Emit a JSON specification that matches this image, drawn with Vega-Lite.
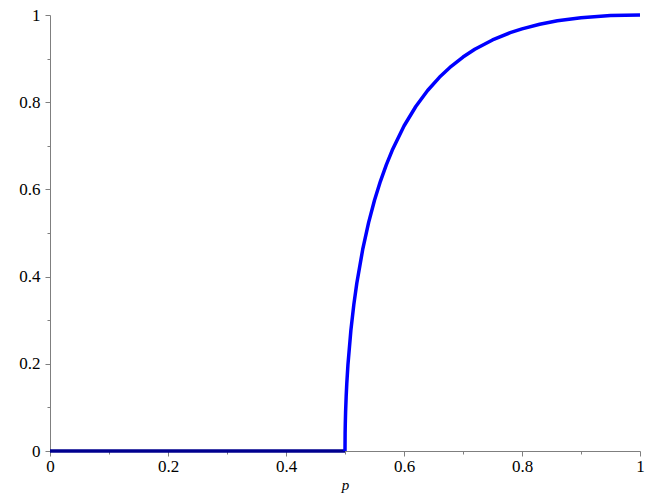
{
  "$schema": "https://vega.github.io/schema/vega-lite/v6.json",
  "width": 590,
  "height": 436,
  "autosize": {"type": "none"},
  "padding": {"left": 50, "top": 15, "right": 16, "bottom": 47},
  "background": "white",
  "config": {
    "view": {"stroke": null},
    "axis": {"labelFont": "Liberation Serif", "labelFontSize": 17, "titleFont": "Liberation Serif"}
  },
  "data": {
    "values": [
      {"p": 0, "theta": 0, "part": "flat"},
      {"p": 0.5, "theta": 0, "part": "flat"},
      {"p": 0.5, "theta": 0, "part": "rise"},
      {"p": 0.5002, "theta": 0.04, "part": "rise"},
      {"p": 0.5005, "theta": 0.0632, "part": "rise"},
      {"p": 0.501, "theta": 0.0893, "part": "rise"},
      {"p": 0.502, "theta": 0.126, "part": "rise"},
      {"p": 0.503, "theta": 0.154, "part": "rise"},
      {"p": 0.505, "theta": 0.198, "part": "rise"},
      {"p": 0.51, "theta": 0.2773, "part": "rise"},
      {"p": 0.515, "theta": 0.3363, "part": "rise"},
      {"p": 0.52, "theta": 0.3846, "part": "rise"},
      {"p": 0.53, "theta": 0.4622, "part": "rise"},
      {"p": 0.54, "theta": 0.5238, "part": "rise"},
      {"p": 0.55, "theta": 0.575, "part": "rise"},
      {"p": 0.56, "theta": 0.6186, "part": "rise"},
      {"p": 0.57, "theta": 0.6564, "part": "rise"},
      {"p": 0.58, "theta": 0.6897, "part": "rise"},
      {"p": 0.6, "theta": 0.7454, "part": "rise"},
      {"p": 0.62, "theta": 0.7902, "part": "rise"},
      {"p": 0.64, "theta": 0.8268, "part": "rise"},
      {"p": 0.66, "theta": 0.8571, "part": "rise"},
      {"p": 0.68, "theta": 0.8823, "part": "rise"},
      {"p": 0.7, "theta": 0.9035, "part": "rise"},
      {"p": 0.72, "theta": 0.9213, "part": "rise"},
      {"p": 0.75, "theta": 0.9428, "part": "rise"},
      {"p": 0.78, "theta": 0.9594, "part": "rise"},
      {"p": 0.8, "theta": 0.9682, "part": "rise"},
      {"p": 0.83, "theta": 0.9788, "part": "rise"},
      {"p": 0.86, "theta": 0.9867, "part": "rise"},
      {"p": 0.9, "theta": 0.9938, "part": "rise"},
      {"p": 0.95, "theta": 0.9986, "part": "rise"},
      {"p": 1, "theta": 1, "part": "rise"}
    ]
  },
  "mark": {"type": "line", "strokeWidth": 3.5, "strokeCap": "butt", "strokeJoin": "round", "clip": false},
  "encoding": {
    "x": {
      "field": "p",
      "type": "quantitative",
      "scale": {"domain": [0, 1], "nice": false, "zero": false},
      "axis": {
        "title": "p",
        "grid": false,
        "domainColor": "#7f7f7f",
        "tickColor": "#7f7f7f",
        "tickSize": {"condition": {"test": "round(datum.value*10) % 2 == 1", "value": 3}, "value": 5},
        "labelFont": "Liberation Serif",
        "labelFontSize": 17,
        "labelColor": "black",
        "titleFont": "Liberation Serif",
        "titleFontSize": 15,
        "titleFontWeight": "normal",
        "titleFontStyle": "italic",
        "titleColor": "black",
        "values": [0, 0.1, 0.2, 0.3, 0.4, 0.5, 0.6, 0.7, 0.8, 0.9, 1],
        "labelExpr": "round(datum.value*10) % 2 == 0 ? format(datum.value, '~g') : ''",
        "labelPadding": 2,
        "titlePadding": 3,
        "labelFlush": false
      }
    },
    "y": {
      "field": "theta",
      "type": "quantitative",
      "scale": {"domain": [0, 1], "nice": false, "zero": false},
      "axis": {
        "title": null,
        "grid": false,
        "domainColor": "#7f7f7f",
        "tickColor": "#7f7f7f",
        "tickSize": {"condition": {"test": "round(datum.value*10) % 2 == 1", "value": 3}, "value": 5},
        "labelFont": "Liberation Serif",
        "labelFontSize": 17,
        "labelColor": "black",
        "values": [0, 0.1, 0.2, 0.3, 0.4, 0.5, 0.6, 0.7, 0.8, 0.9, 1],
        "labelExpr": "round(datum.value*10) % 2 == 0 ? format(datum.value, '~g') : ''",
        "labelPadding": 5,
        "labelFlush": false
      }
    },
    "color": {
      "field": "part",
      "type": "nominal",
      "scale": {"domain": ["flat", "rise"], "range": ["#00008f", "#0000ff"]},
      "legend": null
    },
    "order": {"field": "p", "type": "quantitative"}
  }
}
